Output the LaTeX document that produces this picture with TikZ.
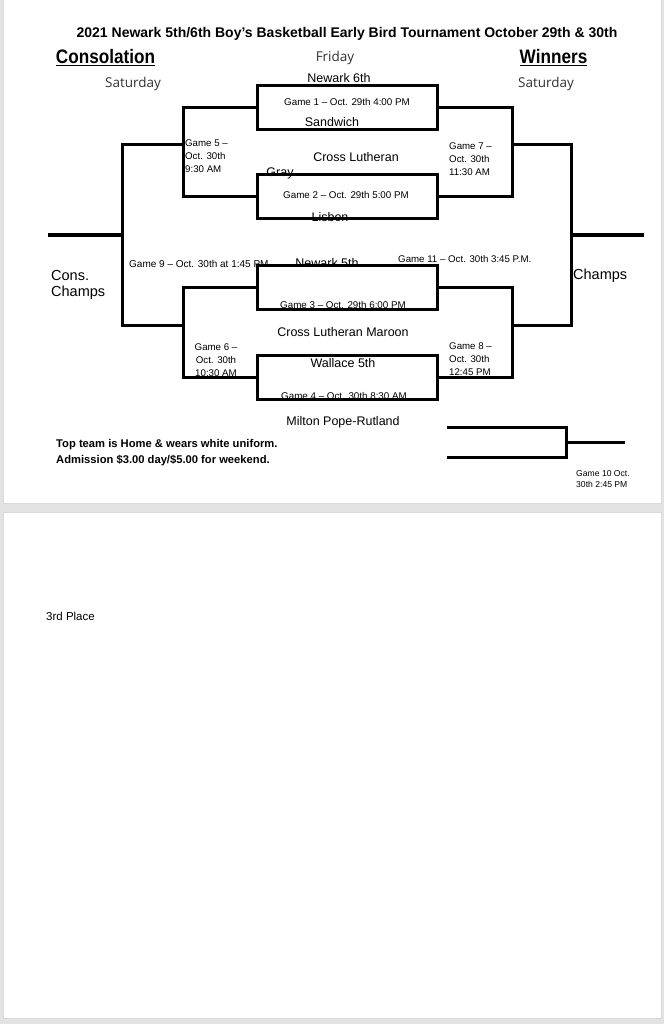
\documentclass[tikz,border=0pt]{standalone}
\usepackage{fontspec}
\setmainfont{Liberation Sans}
\newfontfamily\handfont{Open Sans}
\begin{document}
\begin{tikzpicture}[x=1pt,y=-1pt,
  wire/.style={line width=3pt},
  gamebox/.style={draw, line width=3pt, minimum width=180pt, minimum height=44pt, inner sep=0pt},
  team/.style={font=\fontsize{12.5}{14}\selectfont, inner sep=0pt},
  gtext/.style={font=\fontsize{9.8}{11}\selectfont, inner sep=0pt},
  slabel/.style={font=\fontsize{9.7}{13}\selectfont, inner sep=0pt},
  hand/.style={font=\handfont\fontsize{13.5}{15}\selectfont, text=black!80, inner sep=0pt},
  head/.style={font=\bfseries\fontsize{19.5}{22}\selectfont, inner sep=0pt},
  big/.style={font=\fontsize{14.5}{16.5}\selectfont, inner sep=0pt, align=left, anchor=west},
  note/.style={font=\bfseries\fontsize{11.2}{16}\selectfont, inner sep=0pt, align=left, anchor=west},
]
\useasboundingbox (0,0) rectangle (664,1024);
\fill[black!11] (0,0) rectangle (664,1024);
\fill[white, draw=black!15, line width=0.6pt] (3,-2) rectangle (661,503);
\fill[white, draw=black!15, line width=0.6pt] (3,512) rectangle (661,1018);

% headings
\node[font=\bfseries\fontsize{14}{16}\selectfont, inner sep=0pt] (title) at (347,34) {2021 Newark 5th/6th Boy’s Basketball Early Bird Tournament October 29th \& 30th};
\node[head] (cons) at (105.5,58) {\scalebox{0.88}[1]{\underline{Consolation}}};
\node[head] (win) at (553.5,58) {\scalebox{0.88}[1]{\underline{Winners}}};
\node[hand] (fri) at (335,58) {Friday};
\node[hand] (satl) at (133,84) {Saturday};
\node[hand] (satr) at (546,84) {Saturday};

% game boxes
\node[gamebox] (b1) at (347,107.5) {};
\node[gamebox] (b2) at (347,197) {};
\node[gamebox] (b3) at (347,287) {};
\node[gamebox] (b4) at (347,377) {};

% bracket joints
\coordinate (g5) at (183,145);
\coordinate (g6) at (183,325);
\coordinate (g9) at (122,235);
\coordinate (consend) at (48,235);
\coordinate (g7) at (512,145);
\coordinate (g8) at (512,325);
\coordinate (g11) at (571,235);
\coordinate (champend) at (644,235);
\coordinate (g10a) at (447,427);
\coordinate (g10b) at (447,457);
\coordinate (g10) at (566,442);
\coordinate (g10end) at (625,442);

\draw[wire] (b1.west) -| (g5) |- (b2.west);
\draw[wire] (b3.west) -| (g6) |- (b4.west);
\draw[wire] (g5) -| (g9) |- (g6);
\draw[wire] (g9) -- (consend);
\draw[wire] (b1.east) -| (g7) |- (b2.east);
\draw[wire] (b3.east) -| (g8) |- (b4.east);
\draw[wire] (g7) -| (g11) |- (g8);
\draw[wire] (g11) -- (champend);
\draw[wire] (g10a) -| (g10) |- (g10b);
\draw[wire] (g10) -- (g10end);

% team names and game texts
\node[team] (t1) at (339,78) {Newark 6th};
\node[gtext] (gm1) at (347,102) {Game 1 – Oct. 29th 4:00 PM};
\node[team] (t2) at (332,122) {Sandwich};
\node[team] (t3) at (356,157) {Cross Lutheran};
\node[team] (t3b) at (280,173.5) {Gray};
\node[gtext] (gm2) at (346,195) {Game 2 – Oct. 29th 5:00 PM};
\node[team] (t4) at (330,217) {Lisbon};
\node[team] (t5) at (327,263) {Newark 5th};
\node[gtext] (gm3) at (343,305) {Game 3 – Oct. 29th 6:00 PM};
\node[team] (t6) at (343,332) {Cross Lutheran Maroon};
\node[team] (t7) at (343,363) {Wallace 5th};
\node[gtext] (gm4) at (344,396) {Game 4 – Oct. 30th 8:30 AM};
\node[team] (t8) at (343,422) {Milton Pope-Rutland};

% round labels
\node[slabel, align=left, anchor=west] (l5) at (185,156) {Game 5 –\\Oct. 30th\\9:30 AM};
\node[slabel, align=left, anchor=west] (l7) at (449,159) {Game 7 –\\Oct. 30th\\11:30 AM};
\node[slabel, align=center] (l6) at (216,360) {Game 6 –\\Oct. 30th\\10:30 AM};
\node[slabel, align=left, anchor=west] (l8) at (449,359) {Game 8 –\\Oct. 30th\\12:45 PM};
\node[font=\fontsize{10}{12}\selectfont, inner sep=0pt, anchor=west] (l9) at (129,264) {Game 9 – Oct. 30th at 1:45 PM};
\node[slabel, anchor=west] (l11) at (398,259) {Game 11 – Oct. 30th 3:45 P.M.};
\node[font=\fontsize{8.6}{11}\selectfont, inner sep=0pt, align=left, anchor=west] (l10) at (576,479) {Game 10 Oct.\\30th 2:45 PM};

\node[big] (cc) at (51,285) {Cons.\\Champs};
\node[big] (ch) at (573,276) {Champs};

\node[note] (notes) at (56,453) {Top team is Home \& wears white uniform.\\Admission \$3.00 day/\$5.00 for weekend.};
\node[font=\fontsize{11.5}{13}\selectfont, inner sep=0pt, anchor=west] (third) at (46,616) {3rd Place};
\end{tikzpicture}
\end{document}
